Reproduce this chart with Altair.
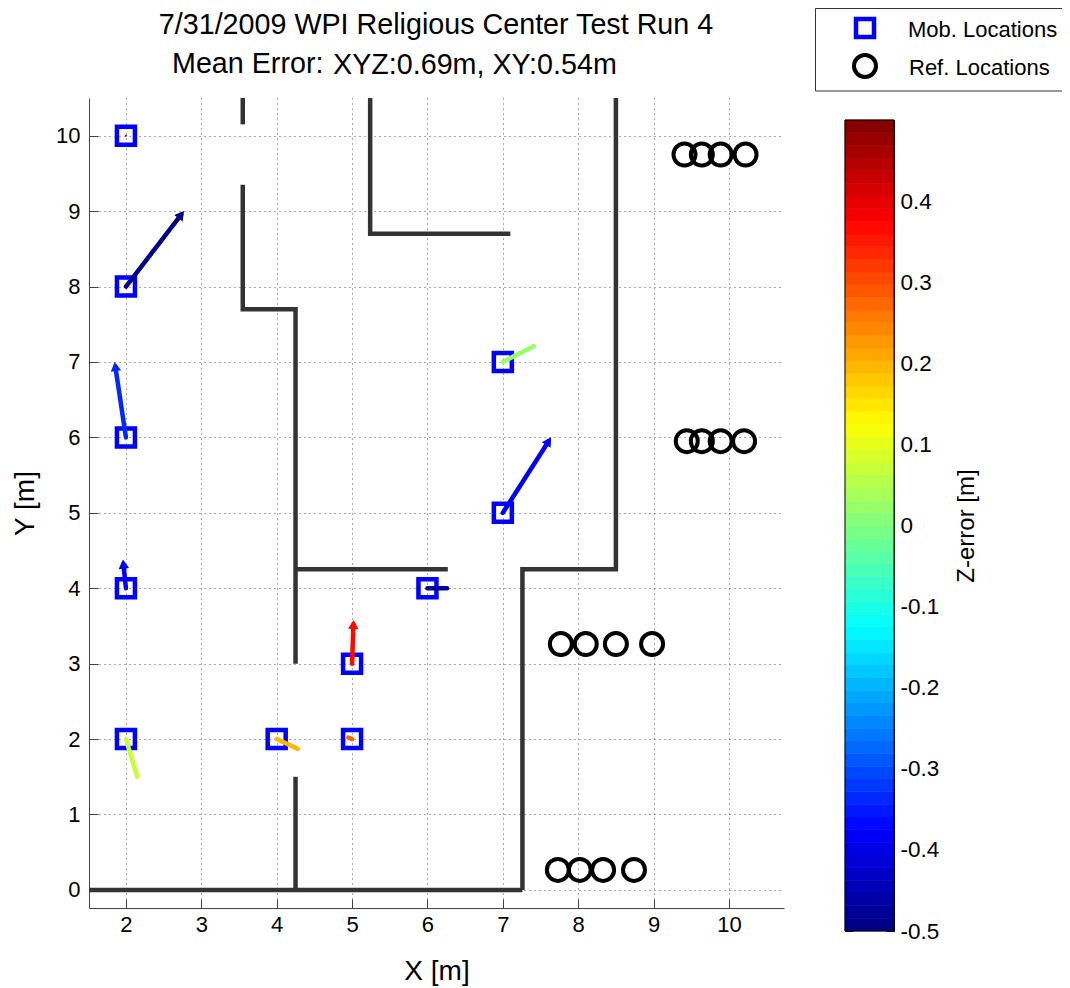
import math
import numpy as np
import pandas as pd
import altair as alt

FONT = "Liberation Sans"
W, H = 695, 810

mob_x = [2, 2, 2, 2, 2, 4, 5, 5, 6, 7, 7]
mob_y = [10, 8, 6, 4, 2, 2, 2, 3, 4, 5, 7]
est_x = [2.0, 2.77, 1.85, 1.96, 2.15, 4.28, 4.95, 5.02, 6.26, 7.64, 7.41]
est_y = [10.0, 9.0, 7.0, 4.38, 1.5, 1.87, 2.02, 3.58, 4.0, 6.0, 7.21]
z_err = [0.47, -0.49, -0.33, -0.38, 0.07, 0.2, 0.28, 0.37, -0.47, -0.38, 0.03]
has_head = [0, 1, 1, 1, 0, 0, 0, 1, 0, 1, 0]

ref_x = [9.41, 9.64, 9.89, 10.22, 9.44, 9.64, 9.89, 10.2,
         7.77, 8.10, 8.50, 8.98, 7.73, 8.02, 8.33, 8.74]
ref_y = [9.75] * 4 + [5.95] * 4 + [3.26] * 4 + [0.265] * 4

wall_id = [0, 0, 1, 1, 2, 2, 2, 2, 2, 3, 3, 4, 4, 5, 5, 5, 6, 6, 6, 6]
wall_x = [1.51, 7.26, 4.25, 4.25, 4.25, 4.25, 3.55, 3.55, 3.55, 3.55, 3.55, 4.25, 6.27,
          5.24, 5.24, 7.1, 8.5, 8.5, 7.26, 7.26]
wall_y = [0, 0, 0, 1.5, 3.0, 7.7, 7.7, 7.7, 9.35, 10.15, 10.5, 4.25, 4.25,
          10.5, 8.7, 8.7, 10.5, 4.25, 4.25, 0]

x_ticks = [2, 3, 4, 5, 6, 7, 8, 9, 10]
y_ticks = [0, 1, 2, 3, 4, 5, 6, 7, 8, 9, 10]
cb_ticks = [-0.5, -0.4, -0.3, -0.2, -0.1, 0, 0.1, 0.2, 0.3, 0.4]


def jet_hex(t):
    c = [min(1, max(0, 1.5 - abs(4 * t - k))) for k in (3, 2, 1)]
    return "#%02x%02x%02x" % tuple(round(v * 255) for v in c)


N = 64
jet = [jet_hex((i + 0.5) / N) for i in range(N)]
bands = pd.DataFrame({
    "lo": [-0.5 + i / N for i in range(N)],
    "hi": [-0.5 + (i + 1) / N for i in range(N)],
})
bands["mid"] = (bands.lo + bands.hi) / 2

arrows = pd.DataFrame({"x": mob_x, "y": mob_y, "tx": est_x, "ty": est_y, "z": z_err, "head": has_head})
arrows["len"] = np.hypot(arrows.tx - arrows.x, arrows.ty - arrows.y)
arrows["ang"] = [math.degrees(math.atan2(a, b)) % 360
                 for a, b in zip(arrows.tx - arrows.x, arrows.ty - arrows.y)]
# arrowhead centre sits slightly behind the tip; the shaft stops there
BACK = 0.06
rad = np.radians(arrows.ang)
arrows["x2"] = arrows.tx - arrows["head"] * BACK * np.sin(rad)
arrows["y2"] = arrows.ty - arrows["head"] * BACK * np.cos(rad)
heads = arrows[arrows["head"] == 1]
dots = arrows[arrows.len < 0.02]
shafts = arrows[arrows.len >= 0.02]
mob = pd.DataFrame({"x": mob_x, "y": mob_y})
ref = pd.DataFrame({"x": ref_x, "y": ref_y})
walls = pd.DataFrame({"id": wall_id, "x": wall_x, "y": wall_y, "o": range(len(wall_x))})

xs = alt.Scale(domain=[1.51, 10.73], nice=False, zero=False)
ys = alt.Scale(domain=[-0.24, 10.5], nice=False, zero=False)
cb_scale = alt.Scale(domain=[-0.5, 0.5], range=[931 - 98, 120 - 98], nice=False, zero=False)
cs = alt.Scale(type="quantize", domain=[-0.5, 0.5], range=jet)

AXC = "#444444"
GRID = dict(grid=True, gridColor="#555555", gridDash=[1, 4], gridWidth=1)
common = dict(labelFont=FONT, titleFont=FONT, titleFontWeight="normal", titleColor="black",
              labelColor="black", domainColor=AXC, tickColor=AXC)

x_main = alt.Axis(values=x_ticks, format="d", tickSize=0, labelFontSize=22, labelPadding=6,
                  title="X [m]", titleFontSize=28, titlePadding=22, labelFlush=False, **GRID, **common)
y_main = alt.Axis(values=y_ticks, format="d", tickSize=0, labelFontSize=22, labelPadding=9,
                  title="Y [m]", titleFontSize=28, titlePadding=16, labelFlush=False, **GRID, **common)
x_in = alt.Axis(orient="top", offset=-H, values=x_ticks, grid=False, labels=False, title=None,
                domain=False, tickSize=9, tickColor=AXC)
y_in = alt.Axis(orient="right", offset=-W, values=y_ticks, grid=False, labels=False, title=None,
                domain=False, tickSize=9, tickColor=AXC)

label_expr = "replace(format(datum.value,'.1~f'),'\u2212','-')"
cb_right = alt.Axis(orient="right", offset=110, values=cb_ticks, grid=False, tickSize=0,
                    labelFontSize=22.5, labelPadding=6, labelExpr=label_expr, labelFlush=False,
                    title="Z-error [m]", titleFontSize=24, titleAngle=270, titlePadding=40,
                    **{**common, "domainColor": "black"})
cb_in_r = alt.Axis(orient="left", offset=-805, values=cb_ticks, grid=False, labels=False,
                   title=None, domainColor="black", tickColor="#222222", tickSize=8)
cb_in_l = alt.Axis(orient="right", offset=61, values=cb_ticks, grid=False, labels=False,
                   title=None, domainColor="black", tickColor="#222222", tickSize=8)

# plot-area pixel origin is (89, 98) on the page
OX, OY = 89, 98

wall_layer = alt.Chart(walls).mark_line(color="#333333", strokeWidth=4.5, strokeCap="butt",
                                        strokeJoin="miter", clip=False).encode(
    x=alt.X("x:Q", scale=xs, axis=x_main),
    y=alt.Y("y:Q", scale=ys, axis=y_main),
    detail="id:N", order="o:Q")

tick_layer = alt.Chart(mob).mark_point(opacity=0).encode(
    x=alt.X("x:Q", scale=xs, axis=x_in),
    y=alt.Y("y:Q", scale=ys, axis=y_in))

mob_layer = alt.Chart(mob).mark_point(shape="square", size=324, color="#0000ff", strokeWidth=4.5,
                                      filled=False, opacity=1).encode(
    x=alt.X("x:Q", scale=xs, axis=None), y=alt.Y("y:Q", scale=ys, axis=None))

ref_layer = alt.Chart(ref).mark_point(shape="circle", size=484, color="black", strokeWidth=4,
                                      filled=False, opacity=1).encode(
    x=alt.X("x:Q", scale=xs, axis=None), y=alt.Y("y:Q", scale=ys, axis=None))

arrow_layer = alt.Chart(shafts).mark_rule(strokeWidth=4.5, strokeCap="round").encode(
    x=alt.X("x:Q", scale=xs, axis=None), y=alt.Y("y:Q", scale=ys, axis=None),
    x2="x2:Q", y2="y2:Q",
    color=alt.Color("z:Q", scale=cs, legend=None))

dot_layer = alt.Chart(dots).mark_point(shape="circle", size=4, filled=True, opacity=1).encode(
    x=alt.X("x:Q", scale=xs, axis=None), y=alt.Y("y:Q", scale=ys, axis=None),
    color=alt.Color("z:Q", scale=cs, legend=None))

head_layer = alt.Chart(heads).mark_point(shape="triangle-up", size=110, filled=True, opacity=1).encode(
    x=alt.X("x2:Q", scale=xs, axis=None), y=alt.Y("y2:Q", scale=ys, axis=None),
    angle=alt.Angle("ang:Q", scale=None),
    color=alt.Color("z:Q", scale=cs, legend=None))

bar_layer = alt.Chart(bands).mark_rect(strokeWidth=0.6).encode(
    x=alt.value(845 - OX), x2=alt.value(894 - OX),
    y=alt.Y("lo:Q", scale=cb_scale, axis=cb_right), y2="hi:Q",
    color=alt.Color("mid:Q", scale=cs, legend=None),
    stroke=alt.Stroke("mid:Q", scale=cs, legend=None))

bar_t1 = alt.Chart(bands).mark_point(opacity=0).encode(
    y=alt.Y("lo:Q", scale=cb_scale, axis=cb_in_r), x=alt.value(800))
bar_t2 = alt.Chart(bands).mark_point(opacity=0).encode(
    y=alt.Y("lo:Q", scale=cb_scale, axis=cb_in_l), x=alt.value(800))

frame = alt.Chart(pd.DataFrame({"a": [-0.5], "b": [0.5]})).mark_rect(fillOpacity=0, stroke="black", strokeWidth=1).encode(
    x=alt.value(845 - OX), x2=alt.value(894 - OX),
    y=alt.Y("a:Q", scale=cb_scale, axis=None), y2="b:Q")


def label(text, px, py, size, align="left"):
    return alt.Chart(pd.DataFrame({"t": [text]})).mark_text(
        font=FONT, fontSize=size, align=align, baseline="middle", color="black").encode(
        x=alt.value(px - OX), y=alt.value(py - OY), text="t:N")


box = alt.Chart(pd.DataFrame({"a": [0]})).mark_rect(fillOpacity=0, stroke="#333333", strokeWidth=1).encode(
    x=alt.value(815.5 - OX), x2=alt.value(1100 - OX),
    y=alt.value(8.5 - OY), y2=alt.value(91 - OY))
leg_sq = alt.Chart(pd.DataFrame({"a": [0]})).mark_point(shape="square", size=324, color="#0000ff",
                                                        strokeWidth=4.5, opacity=1).encode(
    x=alt.value(865 - OX), y=alt.value(28 - OY))
leg_ci = alt.Chart(pd.DataFrame({"a": [0]})).mark_point(shape="circle", size=484, color="black",
                                                        strokeWidth=4, opacity=1).encode(
    x=alt.value(865 - OX), y=alt.value(66 - OY))

layers = [wall_layer, tick_layer, mob_layer, ref_layer, arrow_layer, dot_layer, head_layer,
          bar_layer, bar_t1, bar_t2, frame, box, leg_sq, leg_ci,
          label("7/31/2009 WPI Religious Center Test Run 4", 436, 25, 28.7, "center"),
          label("Mean Error:", 172, 64, 28.7),
          label("XYZ:0.69m, XY:0.54m", 333, 65, 28.7),
          label("Mob. Locations", 908, 30, 22),
          label("Ref. Locations", 909, 68, 22)]

TOTAL_W, TOTAL_H = 1054, 980
chart = alt.layer(*layers).resolve_scale(
    x="independent", y="independent", color="shared", stroke="shared"
).resolve_axis(x="independent", y="independent").properties(
    width=W, height=H,
    padding={"left": OX - 8, "top": OY - 8, "right": TOTAL_W - (OX - 8) - W,
             "bottom": TOTAL_H - (OY - 8) - H},
    autosize=alt.AutoSizeParams(type="none"),
).configure_view(stroke=None)

chart.save("out.html", embed_options={"renderer": "svg", "actions": False})
